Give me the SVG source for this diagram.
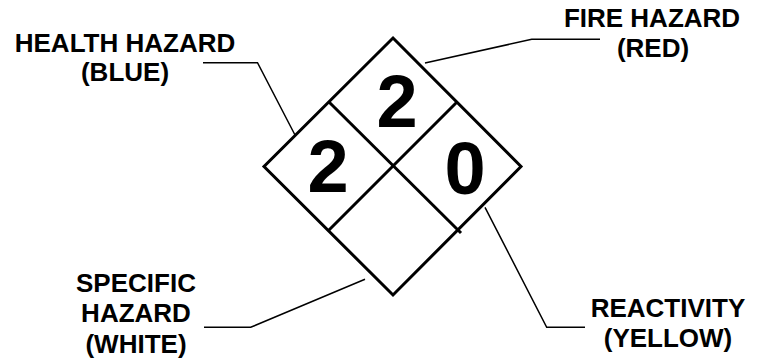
<svg xmlns="http://www.w3.org/2000/svg" width="758" height="358" viewBox="0 0 758 358">
<style>
.lbl{font-family:"Liberation Sans",Arial,sans-serif;font-weight:bold;font-size:26px;fill:#000;text-anchor:middle}
.num{font-family:"Liberation Sans",Arial,sans-serif;font-weight:bold;font-size:74px;fill:#000;text-anchor:middle}
.edge{fill:none;stroke:#000;stroke-width:3;stroke-linejoin:miter}
.lead{fill:none;stroke:#000;stroke-width:1.5}
</style>
<rect width="758" height="358" fill="#fff"/>
<g id="diamond">
<polygon class="edge" points="393,38 521,166.5 393,295 264,166.5"/>
<line class="edge" x1="329" y1="102" x2="461" y2="233"/>
<line class="edge" x1="457" y1="102" x2="328" y2="231"/>
</g>
<g id="fire-value"><text class="num" x="397" y="127">2</text></g>
<g id="health-value"><text class="num" x="328" y="191.5">2</text></g>
<g id="reactivity-value"><text class="num" x="465" y="193.5">0</text></g>
<g id="connectors">
<polyline class="lead" points="203,62.7 257.5,62.7 295,135"/>
<polyline class="lead" points="425,63 531.7,39.3 600,39.3"/>
<polyline class="lead" points="204,327.3 250.7,327.3 365,279.3"/>
<polyline class="lead" points="485,207.3 546.7,327.3 585,327.3"/>
</g>
<g id="health-label">
<text class="lbl" x="125" y="51.5">HEALTH HAZARD</text>
<text class="lbl" x="125" y="81">(BLUE)</text>
</g>
<g id="fire-label">
<text class="lbl" x="652" y="26.5">FIRE HAZARD</text>
<text class="lbl" x="653" y="56.5">(RED)</text>
</g>
<g id="specific-label">
<text class="lbl" x="136" y="291.5">SPECIFIC</text>
<text class="lbl" x="136" y="322">HAZARD</text>
<text class="lbl" x="136" y="352.5">(WHITE)</text>
</g>
<g id="reactivity-label">
<text class="lbl" x="668" y="317">REACTIVITY</text>
<text class="lbl" x="668" y="346.5">(YELLOW)</text>
</g>
</svg>
